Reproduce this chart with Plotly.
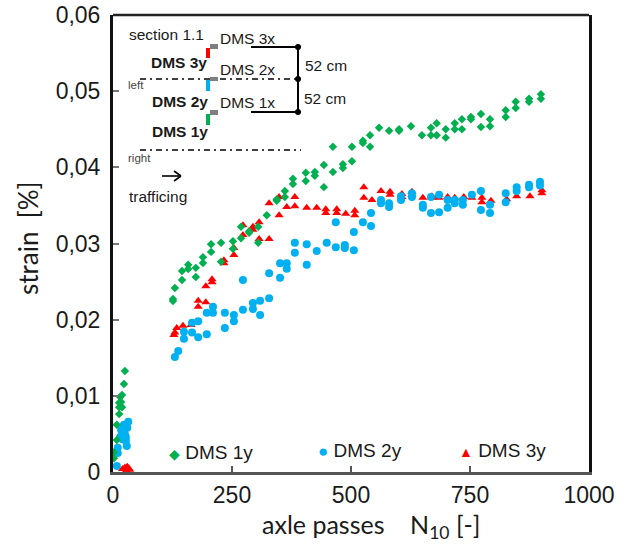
import plotly.graph_objects as go

green_x = [2,2,8,8,13,13,13,15,17,19,19,23,25,
126,126,130,145,145,158,158,174,174,189,189,206,206,227,227,252,252,269,269,286,286,305,305,323,344,344,361,361,378,378,405,405,424,424,443,443,462,462,483,483,502,502,525,525,540,540,559,580,601,601,626,649,668,668,680,680,699,699,718,718,733,733,752,752,773,773,792,792,825,825,846,846,874,874,899,899]
green_y = [.0018,.0026,.0042,.0062,.0076,.0085,.0091,.00985,.0092,.0085,.0101,.01155,.01326,
.0227,.02245,.02416,.0252,.0264,.0272,.02665,.0268,.0256,.0282,.02744,.0299,.0289,.0301,.0276,.0303,.0293,.0307,.0322,.0316,.0314,.0322,.0301,.0337,.0358,.0356,.0369,.0361,.0385,.0378,.0393,.0382,.0394,.0389,.0403,.0374,.0427,.0394,.0404,.0399,.0427,.0408,.0435,.0432,.0442,.0427,.0452,.0448,.045,.0448,.0454,.0442,.0452,.0442,.0458,.0442,.045,.0439,.0458,.045,.0463,.045,.0466,.0463,.047,.0453,.0463,.0454,.0475,.0466,.0486,.0478,.049,.0486,.0496,.049]

blue_x = [8,10,10,15,17,19,20,23,23,25,27,27,29,30,32,
130,137,149,149,166,166,179,179,197,197,210,210,235,235,254,254,273,273,294,294,309,309,328,328,351,351,365,365,382,382,407,407,428,449,468,468,487,487,506,506,525,542,542,563,563,580,580,605,605,628,628,651,651,668,668,685,685,703,703,718,718,735,735,754,773,773,792,792,825,825,848,848,874,874,897,897]
blue_y = [.0008,.0025,.0032,.0046,.0055,.0048,.0043,.0052,.0062,.005,.0041,.0046,.0034,.0058,.0066,
.0151,.0159,.0184,.0175,.0196,.0183,.0198,.0177,.0209,.0181,.0217,.0209,.0209,.0189,.0206,.0198,.0252,.0213,.0222,.0214,.0225,.0206,.0261,.0228,.0274,.0255,.0274,.0267,.0301,.0288,.0299,.0272,.029,.0301,.0295,.0328,.0298,.0294,.0291,.0315,.0328,.034,.0323,.0357,.0353,.0353,.0348,.0362,.0357,.0366,.0361,.0351,.0347,.0361,.034,.0364,.0341,.0357,.0347,.0357,.0353,.0357,.0351,.0364,.0369,.0344,.0351,.034,.0366,.0354,.0374,.0369,.0377,.0374,.0381,.0376]

red_x = [20,25,28,30,33,35,
128,130,134,147,164,179,179,195,195,208,208,233,233,254,254,273,273,294,294,307,307,328,328,349,349,365,382,382,407,428,447,447,470,470,489,508,508,527,527,544,563,582,582,607,607,628,628,651,670,670,685,685,703,718,737,754,775,775,794,827,848,876,901,901]
red_y = [.0004,.0006,.0002,.0007,.0005,.0003,
.018,.0183,.0189,.0192,.0193,.0225,.0217,.0223,.0244,.0253,.0249,.0278,.0274,.0294,.0285,.0324,.0311,.0322,.0318,.0328,.0306,.0306,.0353,.0337,.0361,.0348,.0361,.0349,.0347,.0347,.0345,.034,.0345,.034,.0339,.0343,.0337,.0374,.036,.0357,.0369,.0368,.0364,.0365,.0361,.0368,.0364,.036,.0362,.036,.0364,.036,.0361,.036,.0361,.036,.036,.0354,.0356,.0358,.0362,.0362,.037,.0366]

x_ticks = [0, 250, 500, 750, 1000]
y_ticks = [0, 0.01, 0.02, 0.03, 0.04, 0.05, 0.06]
y_tick_labels = ["0", "0,01", "0,02", "0,03", "0,04", "0,05", "0,06"]

GREEN, BLUE, RED = "#00B050", "#00B0F0", "#FF0000"
TXT = "#1a1a1a"
AR = "Liberation Sans, Arial, sans-serif"
L, R, T, B = 113, 589, 15, 472
PX = lambda p: (p - L) / (R - L)
PY = lambda p: (B - p) / (B - T)

fig = go.Figure()
fig.add_trace(go.Scatter(x=red_x, y=red_y, mode="markers", name="DMS 3y",
                         marker=dict(symbol="triangle-up", size=8, color=RED)))
fig.add_trace(go.Scatter(x=blue_x, y=blue_y, mode="markers", name="DMS 2y",
                         marker=dict(symbol="circle", size=8, color=BLUE)))
fig.add_trace(go.Scatter(x=green_x, y=green_y, mode="markers", name="DMS 1y",
                         marker=dict(symbol="diamond", size=6.5, color=GREEN)))

shapes = []
def line(x0, y0, x1, y1, color="black", width=2, dash="solid"):
    shapes.append(dict(type="line", xref="paper", yref="paper", x0=PX(x0), y0=PY(y0), x1=PX(x1), y1=PY(y1),
                       line=dict(color=color, width=width, dash=dash), layer="above"))
def rect(x0, y0, x1, y1, color):
    shapes.append(dict(type="rect", xref="paper", yref="paper", x0=PX(x0), y0=PY(y0), x1=PX(x1), y1=PY(y1),
                       fillcolor=color, line=dict(width=0), layer="above"))
def dot(x, y, r=3):
    shapes.append(dict(type="circle", xref="paper", yref="paper", x0=PX(x-r), y0=PY(y-r), x1=PX(x+r), y1=PY(y+r),
                       fillcolor="black", line=dict(width=0), layer="above"))

# frame top edge
line(L, T, R, T, color="#222222", width=2.5)
# strain-gauge sketch
line(251, 47, 298, 47); line(251, 112, 298, 112); line(298, 47, 298, 112)
for yy in (47, 79, 112):
    dot(298, yy)
dd = "6px,4px,2px,4px"
line(140, 79, 298, 79, width=1.4, dash=dd)
line(140, 150, 301, 150, width=1.4, dash=dd)
rect(210, 44, 218, 49, "#7f7f7f"); rect(206, 48, 210, 58, RED)
rect(210, 77, 218, 81, "#7f7f7f"); rect(206, 80, 210, 91, BLUE)
rect(210, 110, 218, 115, "#7f7f7f"); rect(206, 114, 210, 125, GREEN)
line(162, 176, 181, 176, width=1.6); line(174, 171, 181, 176, width=1.6); line(174, 181, 181, 176, width=1.6)

ann = []
def text(x, y, s, size=15.5, bold=False, color=TXT, font=AR, anchor="left", angle=0):
    ann.append(dict(x=PX(x), y=PY(y), xref="paper", yref="paper", text=f"<b>{s}</b>" if bold else s,
                    showarrow=False, xanchor=anchor, yanchor="middle", textangle=angle,
                    font=dict(size=size, color=color, family=font), borderpad=0, borderwidth=0))

text(129, 34, "section 1.1")
text(220, 38, "DMS 3x"); text(220, 69, "DMS 2x"); text(220, 103, "DMS 1x")
text(151, 63, "DMS 3y", bold=True); text(152, 101, "DMS 2y", bold=True); text(152, 131, "DMS 1y", bold=True)
text(305, 65, "52 cm"); text(304, 98, "52 cm")
text(128, 85, "left", size=11.5, color="#444444"); text(128, 158, "right", size=11.5, color="#444444")
text(129, 196, "trafficing")
# legend
text(169, 452, f'<span style="color:{GREEN};font-size:14px">◆</span> DMS 1y', size=19)
text(318, 450, f'<span style="color:{BLUE};font-size:17px">●</span> DMS 2y', size=19)
text(459, 450, f'<span style="color:{RED};font-size:14px">▲</span> DMS 3y', size=19)
# axis titles
text(28, 238, "strain  [%]", size=26, font="Lato, sans-serif", anchor="center", angle=-90)
text(371, 526, "axle passes    N<sub>10</sub> [-]", size=25, font="Lato, sans-serif", anchor="center")

fig.update_layout(
    width=629, height=544, margin=dict(l=L, r=629-R, t=T, b=544-B),
    paper_bgcolor="white", plot_bgcolor="white", showlegend=False,
    shapes=shapes, annotations=ann,
    font=dict(family=AR, color=TXT),
    xaxis=dict(range=[0, 1000], tickvals=x_ticks, ticktext=[str(v) for v in x_ticks], automargin=False,
               ticks="inside", ticklen=6, tickwidth=1.5, tickcolor="#555555",
               showline=True, linecolor="#555555", linewidth=3, mirror=False, showgrid=False, zeroline=False,
               tickfont=dict(size=23, color=TXT)),
    yaxis=dict(range=[0, 0.06], tickvals=y_ticks, ticktext=y_tick_labels, automargin=False,
               ticks="inside", ticklen=6, tickwidth=1.5, tickcolor="#777777", ticklabelstandoff=5,
               showline=True, linecolor="#111111", linewidth=3, mirror=True, showgrid=False, zeroline=False,
               tickfont=dict(size=23, color=TXT)),
)
fig.write_html("out.html", config={"displayModeBar": False}, post_script="document.body.style.margin='0';")
